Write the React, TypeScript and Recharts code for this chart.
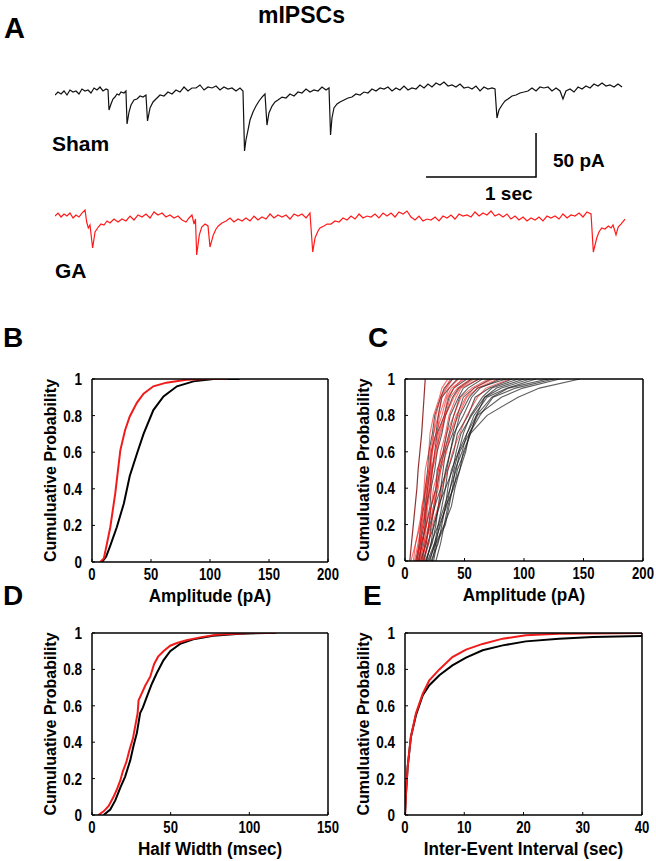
import { LineChart, Line, XAxis, YAxis, Label } from 'recharts'

const FONT = "'Liberation Sans', Arial, Helvetica, sans-serif"
const RED = '#f01c1c'

// A: example traces, [time (s), current (pA)]
const shamTrace: [number, number][] = [
  [0, -5.7], [0.027, -2.3], [0.055, -4.5], [0.082, -1.1], [0.109, -5.7], [0.136, 0], [0.164, -2.3], [0.191, -1.1],
  [0.218, -4.5], [0.245, 1.1], [0.273, -1.1], [0.3, 0], [0.327, -3.4], [0.355, 2.3], [0.382, 0], [0.409, 3.4],
  [0.436, -1.1], [0.464, 1.1], [0.482, 0],
  [0.491, -22.7], [0.509, -15.9], [0.527, -10.2], [0.545, -8.0], [0.564, -4.5], [0.582, -5.7], [0.6, -2.3], [0.627, -3.4], [0.645, -1.1],
  [0.655, -38.6], [0.673, -25.0], [0.691, -17.0], [0.718, -11.4], [0.745, -10.2], [0.773, -6.8], [0.8, -8.0], [0.827, -5.7],
  [0.841, -35.2], [0.864, -20.4], [0.891, -13.6], [0.918, -10.2], [0.955, -5.7], [0.991, -6.8], [1.027, -2.3], [1.064, -4.5],
  [1.1, 0], [1.136, -2.3], [1.173, 3.4], [1.209, -1.1], [1.245, 2.3], [1.282, 2.3], [1.318, 5.7], [1.355, 0], [1.391, 3.4],
  [1.427, 2.3], [1.464, 4.5], [1.5, 0], [1.536, 3.4], [1.573, 1.1], [1.609, 2.3], [1.645, -1.1], [1.682, 2.3], [1.709, -1.1],
  [1.723, -69.3], [1.736, -56.8], [1.755, -45.4], [1.773, -34.1], [1.8, -25.0], [1.827, -18.2], [1.855, -12.5], [1.882, -8.0], [1.909, -4.5],
  [1.927, -39.8], [1.945, -26.1], [1.973, -18.2], [2.0, -13.6], [2.027, -11.4], [2.064, -8.0], [2.1, -9.1], [2.136, -4.5],
  [2.173, -6.8], [2.209, -2.3], [2.245, -3.4], [2.282, 1.1], [2.318, -2.3], [2.355, 0], [2.391, -1.1], [2.427, 3.4], [2.464, 0], [2.491, 2.3],
  [2.505, -51.1], [2.518, -31.8], [2.536, -20.4], [2.564, -15.9], [2.591, -13.6], [2.627, -11.4], [2.664, -9.1], [2.7, -8.0],
  [2.736, -4.5], [2.773, -5.7], [2.809, -2.3], [2.845, -3.4], [2.882, 1.1], [2.918, -1.1], [2.955, 2.3], [2.991, 1.1], [3.027, 3.4],
  [3.064, -1.1], [3.1, 2.3], [3.136, 0], [3.173, 4.5], [3.209, 0], [3.245, 2.3], [3.282, 1.1], [3.318, 5.7], [3.355, 2.3],
  [3.391, 6.8], [3.427, 3.4], [3.464, 8.0], [3.5, 5.7], [3.536, 9.1], [3.573, 4.5], [3.609, 5.7], [3.645, 3.4], [3.682, 6.8],
  [3.718, 2.3], [3.755, 3.4], [3.791, 1.1], [3.827, 4.5], [3.864, -1.1], [3.9, 3.4], [3.936, 1.1], [3.973, 2.3], [4.0, 1.1],
  [4.018, -31.8], [4.036, -22.7], [4.064, -17.0], [4.091, -12.5], [4.118, -10.2], [4.155, -6.8], [4.191, -5.7], [4.227, -3.4],
  [4.264, -2.3], [4.3, -1.1], [4.336, 2.3], [4.373, -1.1], [4.409, 3.4], [4.445, 2.3], [4.482, 3.4], [4.518, -1.1], [4.555, 2.3],
  [4.591, -1.1], [4.618, -10.2], [4.645, -1.1], [4.682, 1.1], [4.718, -2.3], [4.755, 3.4], [4.791, 1.1], [4.827, 4.5],
  [4.864, 2.3], [4.9, 6.8], [4.936, 4.5], [4.973, 8.0], [5.009, 4.5], [5.045, 5.7], [5.082, 3.4], [5.118, 6.8], [5.155, 3.4],
]

const gaTrace: [number, number][] = [
  [0, 1.1], [0.027, 4.5], [0.055, 0], [0.082, 3.4], [0.109, 1.1], [0.136, 4.5], [0.164, -1.1], [0.191, 2.3], [0.218, 0],
  [0.245, 4.5], [0.273, 8.0], [0.288, -5.7], [0.303, -12.5], [0.318, -9.1], [0.342, -35.2], [0.364, -17.0], [0.394, -11.4],
  [0.418, -8.0], [0.445, -9.1], [0.473, -4.5], [0.5, -6.8], [0.536, -2.3], [0.573, -5.7], [0.609, -2.3], [0.645, -4.5],
  [0.682, 1.1], [0.718, -3.4], [0.755, 2.3], [0.791, 0], [0.827, 3.4], [0.864, -1.1], [0.9, 5.7], [0.936, 2.3], [0.973, 4.5],
  [1.009, 0], [1.045, 2.3], [1.082, -1.1], [1.118, 1.1], [1.155, -3.4], [1.191, -5.7], [1.218, -1.1], [1.245, 2.3],
  [1.264, -8.0], [1.277, -2.3], [1.288, -43.2], [1.312, -20.4], [1.334, -11.4], [1.364, -8.0], [1.391, -10.2],
  [1.409, -34.1], [1.439, -20.4], [1.464, -13.6], [1.485, -10.2], [1.518, -6.8], [1.555, -4.5], [1.591, -1.1], [1.627, -5.7],
  [1.664, -2.3], [1.7, -4.5], [1.736, -1.1], [1.773, -4.5], [1.809, 1.1], [1.845, -3.4], [1.882, 0], [1.918, -2.3],
  [1.955, 3.4], [1.991, -1.1], [2.027, 2.3], [2.064, 0], [2.1, 2.3], [2.136, -2.3], [2.173, 3.4], [2.209, 1.1], [2.245, 3.4],
  [2.282, -1.1], [2.318, 4.5], [2.343, -39.8], [2.364, -23.9], [2.391, -15.9], [2.409, -12.5], [2.445, -10.2], [2.473, -8.0],
  [2.509, -8.0], [2.545, -4.5], [2.582, -5.7], [2.618, -1.1], [2.655, -3.4], [2.691, 1.1], [2.727, -2.3], [2.764, 3.4],
  [2.8, -1.1], [2.836, 1.1], [2.873, 0], [2.909, 3.4], [2.945, -1.1], [2.982, 4.5], [3.018, 1.1], [3.055, 4.5], [3.091, 0],
  [3.127, 5.7], [3.164, 3.4], [3.2, 6.8], [3.236, 0], [3.273, -3.4], [3.309, 1.1], [3.345, -4.5], [3.382, -2.3], [3.418, -3.4],
  [3.455, 0], [3.491, -4.5], [3.527, 1.1], [3.564, -1.1], [3.6, 2.3], [3.636, -2.3], [3.673, 3.4], [3.709, 1.1], [3.745, 2.3],
  [3.782, 0], [3.818, 5.7], [3.855, 1.1], [3.891, 4.5], [3.927, 2.3], [3.964, 6.8], [4.0, 1.1], [4.036, 3.4], [4.073, 0],
  [4.109, 3.4], [4.145, -2.3], [4.182, 1.1], [4.218, -3.4], [4.255, 0], [4.291, -4.5], [4.327, -1.1], [4.364, -3.4],
  [4.4, 0], [4.436, -4.5], [4.473, 1.1], [4.509, -1.1], [4.545, 1.1], [4.582, -2.3], [4.618, 3.4], [4.655, -1.1], [4.691, 2.3],
  [4.727, 1.1], [4.764, 4.5], [4.8, 0], [4.836, 5.7], [4.873, 3.4], [4.894, -39.8], [4.925, -23.9], [4.945, -17.0],
  [4.97, -12.5], [5.0, -13.6], [5.03, -10.2], [5.055, -12.5], [5.073, -9.1], [5.1, -20.4], [5.12, -11.4], [5.145, -8.0], [5.182, -2.3],
]

// 1 sec x 50 pA scale bar
const scaleBarTime = [3.373, 4.373, 4.373]
const scaleBarCurrent = [-98.9, -98.9, -48.9]

// B: pooled amplitude CDFs
const ampShamX = [8.5, 12, 15.5, 21, 27, 32, 38, 43.7, 52, 60.6, 72, 86, 103, 125]
const ampShamP = [0, 0.03, 0.09, 0.19, 0.32, 0.47, 0.59, 0.7, 0.83, 0.905, 0.96, 0.987, 1, 1]
const ampGaX = [7, 10, 12, 15.5, 19.7, 24, 28, 32, 38, 43.7, 52, 63, 80, 97, 115]
const ampGaP = [0, 0.02, 0.08, 0.19, 0.375, 0.61, 0.72, 0.795, 0.87, 0.92, 0.96, 0.98, 0.996, 1, 1]

// C: per-cell amplitude CDFs (amplitude at each probability level)
const cellLevels = [0, 0.1, 0.2, 0.3, 0.4, 0.5, 0.6, 0.7, 0.8, 0.9, 0.95, 1]
const shamCells = [
  [9, 12, 13, 16, 17, 19, 20, 23, 25, 30, 33, 40],
  [10, 13, 16, 17, 19, 21, 22, 26, 28, 31, 37, 44],
  [11, 15, 17, 18, 21, 23, 25, 27, 33, 37, 41, 52],
  [12, 14, 18, 21, 22, 25, 27, 31, 34, 40, 45, 56],
  [13, 18, 20, 22, 26, 27, 32, 35, 38, 45, 49, 62],
  [14, 17, 21, 25, 27, 29, 33, 37, 41, 46, 53, 65],
  [15, 20, 22, 25, 30, 32, 34, 40, 44, 49, 58, 72],
  [16, 19, 25, 28, 30, 35, 38, 41, 49, 56, 63, 80],
  [18, 22, 24, 29, 32, 34, 38, 42, 46, 54, 61, 85],
  [17, 23, 26, 28, 34, 36, 41, 44, 53, 59, 71, 90],
  [18, 22, 28, 31, 34, 40, 43, 47, 56, 67, 77, 100],
  [21, 25, 30, 34, 36, 39, 45, 49, 55, 65, 73, 95],
  [19, 25, 28, 33, 38, 41, 45, 52, 58, 69, 86, 110],
  [20, 26, 29, 35, 38, 43, 46, 54, 61, 81, 99, 130],
  [23, 26, 33, 36, 40, 42, 48, 52, 60, 67, 81, 105],
  [22, 28, 31, 34, 41, 44, 50, 55, 69, 95, 113, 147],
  [24, 27, 34, 37, 40, 46, 49, 55, 60, 73, 87, 120],
  [26, 30, 33, 39, 42, 46, 51, 54, 63, 74, 93, 125],
]
const gaCells = [
  [7, 9, 12, 15, 16, 17, 20, 21, 24, 29, 31, 36],
  [8, 11, 14, 15, 17, 20, 21, 24, 26, 30, 34, 38],
  [9, 13, 14, 17, 18, 20, 23, 24, 28, 31, 35, 40],
  [5, 9, 13, 14, 18, 21, 22, 26, 31, 35, 39, 50],
  [10, 12, 15, 18, 19, 22, 23, 27, 29, 34, 37, 45],
  [11, 14, 17, 18, 21, 22, 26, 28, 33, 36, 41, 48],
  [10, 13, 15, 18, 20, 23, 25, 30, 34, 41, 46, 58],
  [12, 14, 18, 19, 22, 23, 27, 29, 34, 38, 44, 55],
  [12, 16, 18, 22, 24, 28, 30, 34, 37, 43, 47, 62],
  [13, 16, 20, 22, 26, 28, 32, 35, 41, 47, 56, 70],
  [14, 18, 20, 24, 26, 30, 33, 38, 43, 51, 58, 74],
  [15, 17, 22, 24, 28, 30, 35, 38, 45, 52, 61, 78],
  [16, 20, 23, 28, 31, 36, 40, 46, 52, 61, 68, 88],
]
// one GA cell with very few events
const gaSparseCell = [4, 5.5, 7, 8.5, 10, 11, 12.5, 14, 15, 16, 16.5, 17]

// D: half width CDFs
const hwShamX = [7.4, 11.6, 14.8, 18, 21, 24.3, 26.4, 28.5, 30.6, 32.3, 34.9, 38, 41.2, 45.4, 49.7, 56, 64.4, 77, 94, 111]
const hwShamP = [0, 0.03, 0.08, 0.15, 0.21, 0.3, 0.38, 0.45, 0.56, 0.59, 0.65, 0.72, 0.78, 0.85, 0.9, 0.94, 0.965, 0.985, 0.996, 1]
const hwGaX = [4, 7.4, 10.6, 13.7, 15.8, 18, 19.6, 21.8, 23.9, 26, 27.5, 29, 29.6, 31.7, 33.8, 37, 39.5, 42, 45.4, 49.7, 54, 60, 68.7, 79, 100, 117]
const hwGaP = [0, 0.02, 0.05, 0.1, 0.14, 0.19, 0.24, 0.29, 0.36, 0.42, 0.49, 0.56, 0.63, 0.67, 0.71, 0.76, 0.83, 0.87, 0.9, 0.93, 0.945, 0.96, 0.976, 0.99, 1, 1]

// E: inter-event interval CDFs
const ieiShamX = [0, 0.17, 0.45, 1.0, 1.86, 3.0, 4.1, 5.8, 8.0, 10.3, 13.1, 16.5, 20.4, 26, 31.7, 40]
const ieiShamP = [0, 0.12, 0.265, 0.43, 0.55, 0.658, 0.713, 0.768, 0.822, 0.865, 0.905, 0.932, 0.954, 0.969, 0.978, 0.984]
const ieiGaX = [0, 0.17, 0.45, 1.0, 1.86, 3.0, 4.1, 5.8, 8.0, 10.3, 13.1, 16.5, 20.4, 26, 40]
const ieiGaP = [0, 0.12, 0.265, 0.43, 0.56, 0.667, 0.74, 0.8, 0.868, 0.909, 0.94, 0.969, 0.987, 0.996, 1]

const probTicks = [0, 0.2, 0.4, 0.6, 0.8, 1]
const ampTicks = [0, 50, 100, 150, 200]
const hwTicks = [0, 50, 100, 150]
const ieiTicks = [0, 10, 20, 30, 40]

const pts = (xs: number[], ps: number[]) => xs.map((x, i) => ({ x, y: ps[i] }))

type Series = { data: { x: number; y: number }[]; color: string; width: number; opacity?: number }

// the figure's lettering is a narrow Helvetica, so squeeze it a little
const SQUEEZE = 0.82

function XTick({ x, y, payload }: any) {
  return (
    <g transform={`translate(${x},${y}) scale(${SQUEEZE},1)`}>
      <text x={0} y={0} dy="0.72em" textAnchor="middle" fontSize={16} fontWeight="bold" fontFamily={FONT} fill="#000">
        {String(payload.value)}
      </text>
    </g>
  )
}

function YTick({ x, y, payload }: any) {
  return (
    <g transform={`translate(${x},${y}) scale(${SQUEEZE},1)`}>
      <text x={0} y={0} dy="0.36em" textAnchor="end" fontSize={16.5} fontWeight="bold" fontFamily={FONT} fill="#000">
        {String(payload.value)}
      </text>
    </g>
  )
}

function CdfPanel({ box, frame, xDomain, xTicks, xLabel, series }: {
  box: number[]; frame: number[]; xDomain: number[]; xTicks: number[]; xLabel: string; series: Series[]
}) {
  const [L, T, R, B] = box
  const [cx, cy, cw, ch] = frame
  const margin = { left: L - cx - 60, top: T - cy - 1, right: cx + cw - R - 1, bottom: cy + ch - B - 40 }
  const axisCommon = { stroke: '#000', strokeWidth: 1.5, tickSize: -3, allowDataOverflow: true, type: 'number' as const }
  const midX = (L + R) / 2 - cx
  const midY = (T + B) / 2 - cy
  const yLabelX = L - cx - 42
  return (
    <div style={{ position: 'absolute', left: cx, top: cy }}>
      <LineChart width={cw} height={ch} margin={margin}>
        <XAxis xAxisId="b" dataKey="x" domain={xDomain} ticks={xTicks} interval={0} height={40}
          tickMargin={9} tick={<XTick />} tickLine={{ strokeWidth: 1 }} {...axisCommon}>
          <Label content={() => (
            <g transform={`translate(${midX},${B - cy + 40}) scale(0.9,1)`}>
              <text x={0} y={0} textAnchor="middle" fontSize={19} fontWeight="bold" fontFamily={FONT} fill="#000">{xLabel}</text>
            </g>
          )} />
        </XAxis>
        <XAxis xAxisId="t" orientation="top" domain={xDomain} ticks={xTicks} interval={0} height={1}
          tick={false} tickLine={{ strokeWidth: 1 }} {...axisCommon} />
        <YAxis yAxisId="l" domain={[0, 1]} ticks={probTicks} interval={0} width={60}
          tickMargin={13} tick={<YTick />} tickLine={{ strokeWidth: 1 }} {...axisCommon}>
          <Label content={() => (
            <text x={yLabelX} y={midY} transform={`rotate(-90 ${yLabelX} ${midY})`} dy="0.36em"
              textAnchor="middle" fontSize={16} fontWeight="bold" fontFamily={FONT} fill="#000">
              Cumuluative Probability
            </text>
          )} />
        </YAxis>
        <YAxis yAxisId="r" orientation="right" domain={[0, 1]} ticks={probTicks} interval={0} width={1}
          tick={false} tickLine={{ strokeWidth: 1 }} {...axisCommon} />
        {series.map((s, i) => (
          <Line key={i} xAxisId="b" yAxisId="l" data={s.data} dataKey="y" type="linear" stroke={s.color}
            strokeWidth={s.width} strokeOpacity={s.opacity ?? 1} dot={false} activeDot={false} isAnimationActive={false} />
        ))}
      </LineChart>
    </div>
  )
}

function TracePanel() {
  const sham = shamTrace.map(([t, v]) => ({ t, v }))
  const ga = gaTrace.map(([t, v]) => ({ t, v }))
  const bar = scaleBarTime.map((t, i) => ({ t, v: scaleBarCurrent[i] }))
  return (
    <div style={{ position: 'absolute', left: 0, top: 0 }}>
      <LineChart width={656} height={300} margin={{ top: 60, left: 55, right: 29, bottom: 20 }}>
        <XAxis xAxisId="a" dataKey="t" type="number" domain={[0, 5.2]} allowDataOverflow hide />
        <YAxis yAxisId="sham" type="number" domain={[-215.9, 34.1]} allowDataOverflow hide />
        <YAxis yAxisId="ga" type="number" domain={[-71.6, 178.4]} allowDataOverflow hide />
        <Line xAxisId="a" yAxisId="sham" data={sham} dataKey="v" type="linear" stroke="#111" strokeWidth={1.2}
          dot={false} activeDot={false} isAnimationActive={false} />
        <Line xAxisId="a" yAxisId="ga" data={ga} dataKey="v" type="linear" stroke="#ff1a1a" strokeWidth={1.2}
          dot={false} activeDot={false} isAnimationActive={false} />
        <Line xAxisId="a" yAxisId="sham" data={bar} dataKey="v" type="linear" stroke="#000" strokeWidth={1.5}
          dot={false} activeDot={false} isAnimationActive={false} />
      </LineChart>
    </div>
  )
}

export default function App() {
  const cellSeries: Series[] = [
    ...shamCells.map(xs => ({ data: pts(xs, cellLevels), color: '#1a1a1a', width: 1.1, opacity: 0.7 })),
    ...gaCells.map(xs => ({ data: pts(xs, cellLevels), color: '#ee1111', width: 1.1, opacity: 0.6 })),
    { data: pts(gaSparseCell, cellLevels), color: '#8a1c1c', width: 1.2, opacity: 0.9 },
  ]
  const t = { fontFamily: FONT, fontWeight: 'bold' as const, fill: '#000' }
  return (
    <div style={{ position: 'absolute', left: 0, top: 0, width: 656, height: 861, background: '#fff', overflow: 'hidden' }}>
      <TracePanel />
      <CdfPanel box={[92, 379, 328, 562]} frame={[0, 360, 340, 250]} xDomain={[0, 200]} xTicks={ampTicks}
        xLabel="Amplitude (pA)"
        series={[
          { data: pts(ampShamX, ampShamP), color: '#000', width: 2 },
          { data: pts(ampGaX, ampGaP), color: RED, width: 2 },
        ]} />
      <CdfPanel box={[405, 379, 643, 561]} frame={[330, 360, 326, 250]} xDomain={[0, 200]} xTicks={ampTicks}
        xLabel="Amplitude (pA)" series={cellSeries} />
      <CdfPanel box={[92, 633, 328, 815]} frame={[0, 615, 340, 246]} xDomain={[0, 150]} xTicks={hwTicks}
        xLabel="Half Width (msec)"
        series={[
          { data: pts(hwShamX, hwShamP), color: '#000', width: 2 },
          { data: pts(hwGaX, hwGaP), color: RED, width: 2 },
        ]} />
      <CdfPanel box={[405, 633, 642, 815]} frame={[330, 615, 326, 246]} xDomain={[0, 40]} xTicks={ieiTicks}
        xLabel="Inter-Event Interval (sec)"
        series={[
          { data: pts(ieiShamX, ieiShamP), color: '#000', width: 2 },
          { data: pts(ieiGaX, ieiGaP), color: RED, width: 2 },
        ]} />
      <svg width={656} height={861} style={{ position: 'absolute', left: 0, top: 0, pointerEvents: 'none' }}>
        <text x={258} y={23} fontSize={23} {...t}>mIPSCs</text>
        <text x={4} y={38} fontSize={29} {...t}>A</text>
        <text x={52} y={151} fontSize={21} {...t}>Sham</text>
        <text x={55} y={278} fontSize={21} {...t}>GA</text>
        <text x={553} y={167} fontSize={19} {...t}>50 pA</text>
        <text x={485} y={200} fontSize={19} {...t}>1 sec</text>
        <text x={3} y={347} fontSize={28} {...t}>B</text>
        <text x={368} y={347} fontSize={28} {...t}>C</text>
        <text x={3} y={605} fontSize={28} {...t}>D</text>
        <text x={363} y={605} fontSize={28} {...t}>E</text>
      </svg>
    </div>
  )
}
